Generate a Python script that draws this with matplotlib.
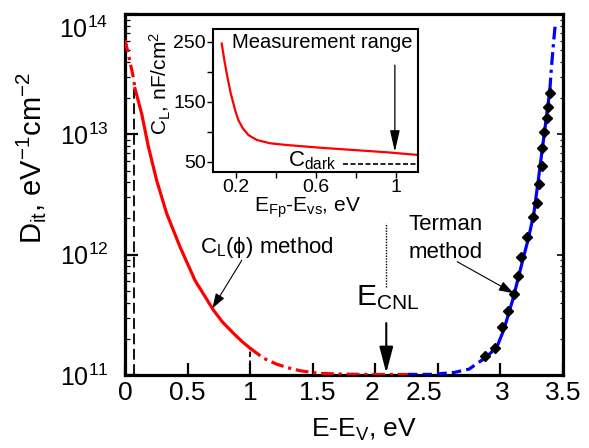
import matplotlib
matplotlib.use('Agg')
import matplotlib.pyplot as plt
import matplotlib.transforms as mtrans
from matplotlib.ticker import NullFormatter, LogLocator, FixedLocator

plt.rcParams['font.family'] = ['Liberation Sans', 'DejaVu Sans']
plt.rcParams['mathtext.fontset'] = 'custom'
plt.rcParams['mathtext.rm'] = 'Liberation Sans'
plt.rcParams['mathtext.it'] = 'Liberation Sans:italic'
plt.rcParams['mathtext.bf'] = 'Liberation Sans:bold'
plt.rcParams['mathtext.sf'] = 'Liberation Sans'
plt.rcParams['mathtext.default'] = 'regular'

# ---------------- data ----------------
# C_L(phi) method (red): extrapolated part, measured part, extrapolated part
red_pre_E = [0.0, 0.026, 0.066, 0.08]
red_pre_D = [6.1e13, 4.7e13, 3.0e13, 2.4e13]
red_E = [0.08, 0.133, 0.187, 0.253, 0.333, 0.44, 0.56, 0.707, 0.78, 0.867, 0.935, 1.0]
red_D = [2.4e13, 1.49e13, 7.9e12, 4.15e12, 2.2e12, 1.16e12, 6.1e11, 3.46e11, 2.75e11,
         2.22e11, 1.9e11, 1.67e11]
red_post_E = [1.0, 1.107, 1.213, 1.3, 1.4, 1.56, 1.8, 2.0, 2.3]
red_post_D = [1.67e11, 1.38e11, 1.23e11, 1.15e11, 1.085e11, 1.03e11, 1.015e11, 1.01e11, 1.01e11]

# Terman method fit (blue)
blue_dash_E = [2.26, 2.45, 2.63, 2.75, 2.853]
blue_dash_D = [1.012e11, 1.012e11, 1.05e11, 1.12e11, 1.33e11]
blue_E = [2.853, 2.90, 2.973, 3.027, 3.10, 3.17, 3.227, 3.267, 3.303, 3.35, 3.395]
blue_D = [1.33e11, 1.45e11, 1.72e11, 2.37e11, 4.27e11, 8.3e11, 1.41e12, 2.19e12, 4.17e12, 1.0e13, 2.32e13]
blue_post_E = [3.395, 3.406, 3.426, 3.44]
blue_post_D = [2.32e13, 3.4e13, 6.0e13, 8.5e13]

# Terman method data points (black diamonds)
terman_E = [2.88, 2.954, 3.014, 3.062, 3.106, 3.142, 3.166, 3.214, 3.258, 3.29,
            3.311, 3.330, 3.336, 3.352, 3.372, 3.381, 3.394]
terman_D = [1.45e11, 1.67e11, 2.5e11, 3.4e11, 4.7e11, 6.7e11, 9.5e11, 1.4e12, 2.05e12, 2.67e12,
            3.85e12, 5.5e12, 7.7e12, 1.04e13, 1.38e13, 1.7e13, 2.2e13]

# vertical marker lines
vline_dash_E = 0.075
vline_dash_top = 2.4e13
vline_dd_E = 1.0
vline_dd_top = 1.67e11
E_CNL = 2.088

# axis ticks
xticks = [0, 0.5, 1, 1.5, 2, 2.5, 3, 3.5]
xtick_labels = ['0', '0.5', '1', '1.5', '2', '2.5', '3', '3.5']
yticks = [1e11, 1e12, 1e13, 1e14]
ytick_labels = [r'10$^{11}$', r'10$^{12}$', r'10$^{13}$', r'10$^{14}$']

# inset: C_L vs E_Fp - E_vs
ins_E = [0.130, 0.143, 0.158, 0.175, 0.197, 0.213, 0.235, 0.263, 0.305, 0.371,
         0.454, 0.62, 0.786, 0.952, 1.11]
ins_C = [247, 219.5, 191.7, 164, 136, 119.5, 105.7, 94.5, 86.2, 80.7,
         77.8, 73.3, 69.5, 65.7, 61.2]
cdark_E = [0.736, 1.11]
cdark_C = [46, 46]
ins_xticks = [0.2, 0.6, 1.0]
ins_xtick_labels = ['0.2', '0.6', '1']
ins_yticks = [50, 150, 250]
ins_yminor = [100, 200]
ins_xminor = [0.4, 0.8]

# ---------------- figure ----------------
fig = plt.figure(figsize=(5.89, 4.48), dpi=100)
ax = fig.add_axes([0.2122, 0.1629, 0.7436, 0.8058])
ax.set_yscale('log')
ax.set_xlim(0, 3.5)
ax.set_ylim(1e11, 1e14)

RED = '#ff0000'
BLUE = '#0000ff'
lw = 2.3
dd = (4, 1.5, 1, 1.5)

# vertical lines
ax.plot([vline_dash_E, vline_dash_E], [1e11, vline_dash_top], color='k', lw=1.3,
        dashes=(6, 2.5), zorder=1)
ax.plot([vline_dd_E, vline_dd_E], [1e11, vline_dd_top], color='k', lw=1.3,
        dashes=(3, 2), zorder=1)

# red curve
ax.plot(red_pre_E, red_pre_D, color=RED, lw=lw, dashes=dd, zorder=3)
ax.plot(red_E, red_D, color=RED, lw=lw, zorder=3, solid_joinstyle='round')
ax.plot(red_post_E, red_post_D, color=RED, lw=lw, dashes=dd, zorder=3)

# blue curve
ax.plot(blue_dash_E, blue_dash_D, color=BLUE, lw=lw, dashes=(3, 1.6), zorder=3)
ax.plot(blue_E, blue_D, color=BLUE, lw=lw, zorder=3, solid_joinstyle='round')
ax.plot(blue_post_E, blue_post_D, color=BLUE, lw=lw, dashes=dd, zorder=3)

# Terman points
ax.plot(terman_E, terman_D, ls='none', marker='D', color='k', ms=5, zorder=4)

# E_CNL marker
ax.plot([E_CNL, E_CNL], [5.37e11, 1.84e12], color='k', lw=1.0, ls=(0, (1, 1)), zorder=2)
ax.annotate('', xy=(E_CNL, 1.04e11), xytext=(E_CNL, 2.7e11),
            arrowprops=dict(arrowstyle='-|>,head_length=1.6,head_width=0.42',
                            mutation_scale=10, color='k', lw=1.5, shrinkA=0, shrinkB=0),
            zorder=5)
ax.text(1.848, 3.82e11, r'E$_{\mathrm{CNL}}$', fontsize=21.5, ha='left', va='baseline')

# annotations
ax.text(0.6, 1.03e12, r'C$_{\mathrm{L}}$(ϕ) method', fontsize=16, ha='left', va='baseline')
ax.annotate('', xy=(0.698, 3.58e11), xytext=(0.934, 9.0e11),
            arrowprops=dict(arrowstyle='-|>,head_length=0.9,head_width=0.3',
                            mutation_scale=10, color='k', lw=0.8, shrinkA=0, shrinkB=0))
ax.text(2.264, 1.6e12, 'Terman', fontsize=16, ha='left', va='baseline')
ax.text(2.264, 9.4e11, 'method', fontsize=16, ha='left', va='baseline')
ax.annotate('', xy=(3.106, 4.78e11), xytext=(2.654, 8.75e11),
            arrowprops=dict(arrowstyle='-|>,head_length=0.9,head_width=0.3',
                            mutation_scale=10, color='k', lw=0.8, shrinkA=0, shrinkB=0))

# axes styling
for s in ax.spines.values():
    s.set_linewidth(2.3)
ax.set_xticks(xticks)
ax.set_xticklabels(xtick_labels)
ax.set_yticks(yticks)
ax.set_yticklabels(ytick_labels)
ax.yaxis.set_minor_locator(LogLocator(base=10, subs=range(2, 10)))
ax.yaxis.set_minor_formatter(NullFormatter())
ax.tick_params(axis='x', which='major', direction='in', length=9, width=1.6,
               labelsize=19, pad=4, top=False)
ax.tick_params(axis='y', which='major', direction='in', length=9, width=1.6,
               labelsize=18, pad=12)
ax.tick_params(axis='y', which='minor', direction='in', length=3.5, width=0.9)

ax.set_xlabel(r'E-E$_{\mathrm{V}}$, eV', fontsize=19, va='baseline')
ax.xaxis.set_label_coords((364 - 125) / 438, (375 - 436.7) / 361)
ax.set_ylabel(r'D$_{\mathrm{it}}$, eV$^{-1}$cm$^{-2}$', fontsize=21, va='center', ha='center')
ax.yaxis.set_label_coords((31 - 125) / 438, (375 - 158) / 361)

# right side ticks
axr = ax.twinx()
axr.set_yscale('log')
axr.set_ylim(1e11, 1e14)
axr.yaxis.set_major_locator(FixedLocator(yticks))
axr.yaxis.set_minor_locator(LogLocator(base=10, subs=range(2, 10)))
axr.yaxis.set_minor_formatter(NullFormatter())
axr.tick_params(axis='y', which='major', direction='in', length=4, width=1.2, labelright=False)
axr.tick_params(axis='y', which='minor', direction='in', length=2.5, width=0.8)
for s in axr.spines.values():
    s.set_visible(False)

# nudge some tick labels as in the reference
def nudge(label, dx, dy):
    label.set_transform(label.get_transform() +
                        mtrans.ScaledTranslation(dx / 100, dy / 100, fig.dpi_scale_trans))

xt = ax.xaxis.get_major_ticks()
nudge(xt[3].label1, 5, 0)
nudge(xt[4].label1, -3, 0)
nudge(xt[5].label1, -14, 0)
nudge(xt[6].label1, 2, 0)
yt = ax.yaxis.get_major_ticks()
nudge(yt[3].label1, 0, -13)

# ---------------- inset ----------------
axin = fig.add_axes([0.3611, 0.6154, 0.3491, 0.3192])
axin.set_facecolor('white')
axin.set_xlim(0.085, 1.111)
axin.set_ylim(32.3, 270.7)
axin.plot(ins_E, ins_C, color=RED, lw=1.6, solid_joinstyle='round')
axin.plot(cdark_E, cdark_C, color='k', lw=1.2, dashes=(3, 1.5))
axin.text(0.461, 41.7, r'C$_{\mathrm{dark}}$', fontsize=16, ha='left', va='baseline')
axin.text(0.18, 239, 'Measurement range', fontsize=14.5, ha='left', va='baseline')
axin.annotate('', xy=(0.994, 66.7), xytext=(0.994, 211),
              arrowprops=dict(arrowstyle='-|>,head_length=1.3,head_width=0.3',
                              mutation_scale=10, color='k', lw=0.9, shrinkA=0, shrinkB=0))
for s in axin.spines.values():
    s.set_linewidth(1.5)
axin.set_xticks(ins_xticks)
axin.set_xticklabels(ins_xtick_labels)
axin.set_xticks(ins_xminor, minor=True)
axin.set_yticks(ins_yticks)
axin.set_yticks(ins_yminor, minor=True)
axin.tick_params(axis='both', which='both', direction='out', length=4, width=1.0,
                 labelsize=14, pad=1)
axin.set_xlabel(r'E$_{\mathrm{Fp}}$-E$_{\mathrm{vs}}$, eV', fontsize=15, va='baseline')
axin.xaxis.set_label_coords((307 - 212.7) / 205.6, (172.3 - 212) / 143)
axin.set_ylabel(r'C$_{\mathrm{L}}$, nF/cm$^{2}$', fontsize=15, va='center', ha='center')
axin.yaxis.set_label_coords((160 - 212.7) / 205.6, (172.3 - 83) / 143)

fig.savefig('out.png', dpi=100)
